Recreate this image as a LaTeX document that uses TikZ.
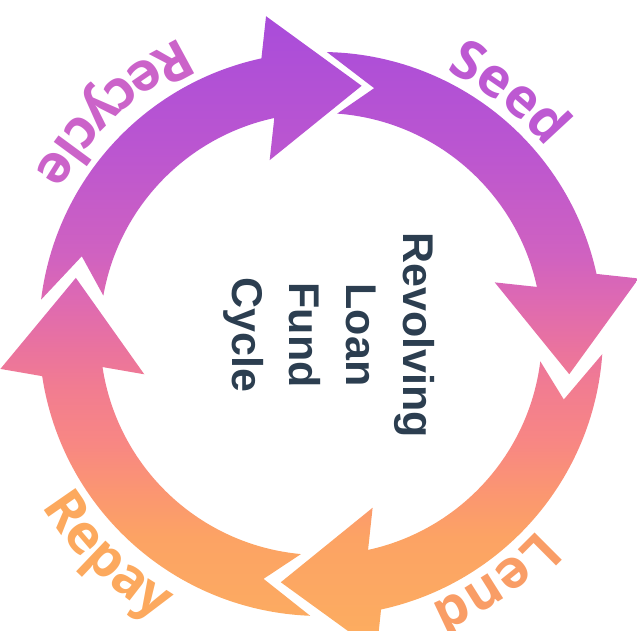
\documentclass[tikz,border=0pt]{standalone}
\usepackage{fontspec}
\usepackage{xcolor}
\usepackage{tikz}
\usetikzlibrary{calc,decorations.text}
\newfontfamily\lblfont{Open Sans}
\newfontfamily\titlefont{Liberation Sans}
\newcommand\lblstyle{\lblfont\bfseries\fontsize{27}{30}\selectfont}
\definecolor{titlecol}{HTML}{2C3E50}
\definecolor{seedcol}{HTML}{BD59D2}
\definecolor{recyclecol}{HTML}{CB63C9}
\definecolor{lendcol}{HTML}{F99D66}
\definecolor{repaycol}{HTML}{FCA95E}
\definecolor{gA}{HTML}{FDAE5E}
\definecolor{gB}{HTML}{FCA962}
\definecolor{gC}{HTML}{FCA364}
\definecolor{gD}{HTML}{FB9770}
\definecolor{gE}{HTML}{F88783}
\definecolor{gF}{HTML}{F27D90}
\definecolor{gG}{HTML}{EA739E}
\definecolor{gH}{HTML}{DD69B3}
\definecolor{gI}{HTML}{D062C0}
\definecolor{gJ}{HTML}{BB56D0}
\definecolor{gK}{HTML}{A94CDA}
\pgfdeclareverticalshading{cyclegrad}{100bp}{color(0bp)=(gA); color(25bp)=(gA); color(29.1bp)=(gB); color(34bp)=(gC); color(37.3bp)=(gD); color(41.4bp)=(gE); color(45.5bp)=(gF); color(48.8bp)=(gG); color(52.9bp)=(gH); color(56.1bp)=(gI); color(64.3bp)=(gJ); color(75bp)=(gK); color(100bp)=(gK)}
\def\rout{282}
\def\rin{221}
\def\rmid{251.5}

\begin{document}
\begin{tikzpicture}[
        x=0.5pt, y=0.5pt,
        band/.style={shading=cyclegrad},
        steplabel/.style 2 args={decorate, decoration={text along path, text align=center, text={|\lblstyle\color{#1}|#2}}},
        centertext/.style={rotate=-90, align=center, text=titlecol, font=\titlefont\bfseries\fontsize{21.5}{28.5}\selectfont}
    ]
        \useasboundingbox (-321,-297) rectangle (316,334);

        \shade[band] \foreach \tailang/\tipang in {88.8/-9.2, -4.1/-99.2, -92.2/-192.9, 173/80.7} {
            (\tailang:\rout) arc[start angle=\tailang, end angle=\tipang+21.5, radius=\rout]
            -- ($({\tipang+21.5}:\rmid)!36pt!90:(\tipang:\rmid)$)
            -- (\tipang:\rmid)
            -- ($({\tipang+21.5}:\rmid)!36pt!-90:(\tipang:\rmid)$)
            -- ({\tipang+21.5}:\rin) arc[start angle=\tipang+21.5, end angle=\tailang-3, radius=\rin]
            -- ({\tailang-11}:\rmid) -- cycle
        };

        \path[steplabel={seedcol}{Seed}] (82:292) arc[start angle=82, end angle=22, radius=292];
        \path[steplabel={lendcol}{Lend}] (-25:292) arc[start angle=-25, end angle=-85, radius=292];
        \path[steplabel={repaycol}{Repay}] (196:328) arc[start angle=196, end angle=256, radius=328];
        \path[steplabel={recyclecol}{Recycle}] (103:328) arc[start angle=103, end angle=163, radius=328];

        \node[centertext] (title) at (8,-1) {Revolving\\Loan\\Fund\\Cycle};
    \end{tikzpicture}
\end{document}
